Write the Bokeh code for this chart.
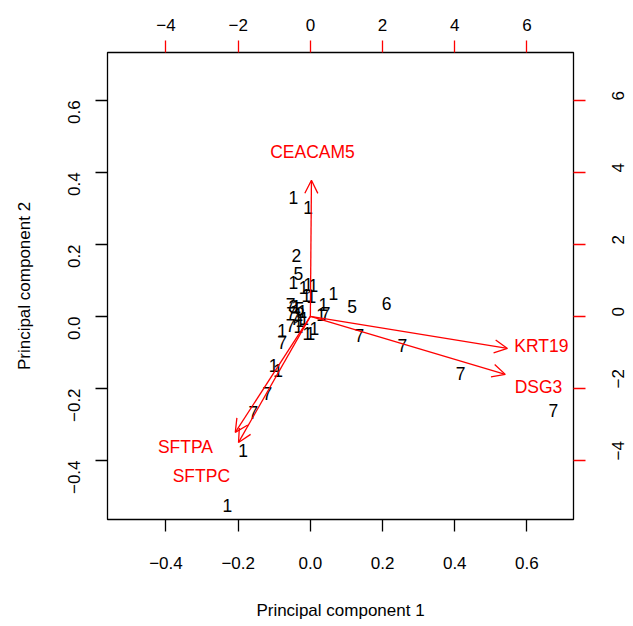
import math
from bokeh.plotting import figure
from bokeh.models import Range1d, LinearAxis, FixedTicker, Arrow, OpenHead, ColumnDataSource, LabelSet
from bokeh.core.properties import value
from bokeh.embed import file_html
from bokeh.resources import INLINE

# ---- data ----
pc1 = [-0.047, -0.006, -0.039, -0.033, -0.047, -0.019, -0.006, 0.008, -0.011, 0.003,
       0.064, 0.036, 0.116, 0.211, 0.030, 0.042, 0.136, 0.255, 0.416, 0.673,
       -0.055, -0.047, -0.039, -0.030, -0.053, -0.033, -0.022, -0.028, -0.042, -0.017,
       -0.078, -0.055, -0.078, -0.033, -0.008, 0.000, 0.011, -0.102, -0.089, -0.119,
       -0.158, -0.186, -0.230]
pc2 = [0.331, 0.303, 0.169, 0.119, 0.094, 0.081, 0.089, 0.086, 0.058, 0.056,
       0.064, 0.033, 0.028, 0.036, 0.006, 0.008, -0.053, -0.081, -0.158, -0.261,
       0.033, 0.028, 0.028, 0.022, 0.008, 0.006, 0.014, -0.011, -0.006, -0.006,
       -0.039, -0.025, -0.072, -0.028, -0.047, -0.047, -0.033, -0.136, -0.150, -0.214,
       -0.267, -0.372, -0.525]
groups = ["1", "1", "2", "5", "1", "1", "1", "1", "1", "1",
          "1", "1", "5", "6", "1", "7", "7", "7", "7", "7",
          "7", "3", "1", "5", "7", "1", "1", "1", "7", "1",
          "1", "7", "7", "1", "1", "1", "1", "1", "1", "7",
          "7", "1", "1"]

genes = ["CEACAM5", "KRT19", "DSG3", "SFTPA", "SFTPC"]
load1 = [0.03, 5.46, 5.40, -2.08, -1.99]
load2 = [3.78, -0.89, -1.61, -3.22, -3.50]
lab1 = [0.06, 6.40, 6.32, -3.46, -3.02]
lab2 = [4.56, -0.81, -1.97, -3.64, -4.44]

pc_ticks = [-0.4, -0.2, 0.0, 0.2, 0.4, 0.6]
pc_tick_labels = ["\u22120.4", "\u22120.2", "0.0", "0.2", "0.4", "0.6"]
ld_ticks = [-4, -2, 0, 2, 4, 6]
ld_tick_labels = ["\u22124", "\u22122", "0", "2", "4", "6"]

FONT = "Liberation Sans"
FS = "17px"
FS_PTS = "17.5px"

p = figure(width=617, height=610, output_backend="svg", toolbar_location=None,
           x_range=Range1d(-0.562, 0.729), y_range=Range1d(-0.564, 0.733),
           min_border_left=107, min_border_right=44, min_border_top=52, min_border_bottom=91,
           x_axis_label="Principal component 1", y_axis_label="Principal component 2")
p.frame_width = 466
p.frame_height = 467
p.grid.visible = False
p.outline_line_color = "black"
p.outline_line_width = 1.3
p.background_fill_color = "white"
p.border_fill_color = "white"

p.extra_x_ranges = {"ld1": Range1d(-5.62, 7.29)}
p.extra_y_ranges = {"ld2": Range1d(-5.64, 7.33)}

def style(ax, ticks, labels, tick_color, vertical=False):
    ax.ticker = FixedTicker(ticks=ticks)
    ax.major_label_overrides = {t: l for t, l in zip(ticks, labels)}
    ax.axis_line_color = None
    ax.major_tick_line_color = tick_color
    ax.major_tick_line_width = 1.3
    ax.major_tick_out = 12
    ax.major_tick_in = 0
    ax.minor_tick_line_color = None
    ax.major_label_text_font = FONT
    ax.major_label_text_font_size = FS
    ax.major_label_text_color = "black"
    ax.axis_label_text_font = FONT
    ax.axis_label_text_font_size = FS
    ax.axis_label_text_font_style = "normal"
    ax.axis_label_text_color = "black"
    if vertical:
        ax.major_label_orientation = math.pi / 2

style(p.xaxis[0], pc_ticks, pc_tick_labels, "black")
p.xaxis[0].major_label_standoff = 25
p.xaxis[0].axis_label_standoff = 29
style(p.yaxis[0], pc_ticks, pc_tick_labels, "black", vertical=True)
p.yaxis[0].major_label_standoff = 21
p.yaxis[0].axis_label_standoff = 26

top = LinearAxis(x_range_name="ld1")
style(top, ld_ticks, ld_tick_labels, "red")
top.major_label_standoff = 10
p.add_layout(top, "above")
right = LinearAxis(y_range_name="ld2")
style(right, ld_ticks, ld_tick_labels, "red", vertical=True)
right.major_label_standoff = 33
p.add_layout(right, "right")

# sample points as text
src = ColumnDataSource(dict(x=pc1, y=pc2, t=groups))
p.text(x="x", y="y", text="t", source=src, text_align="center", text_baseline="middle",
       text_font=value(FONT), text_font_size=FS_PTS, text_color="black")

# loading arrows
for i in range(len(genes)):
    p.add_layout(Arrow(x_start=0, y_start=0, x_end=load1[i], y_end=load2[i],
                       x_range_name="ld1", y_range_name="ld2",
                       line_color="red", line_width=1.3,
                       end=OpenHead(size=13, line_color="red", line_width=1.3)))

lsrc = ColumnDataSource(dict(x=lab1, y=lab2, t=genes))
p.add_layout(LabelSet(x="x", y="y", text="t", source=lsrc, x_range_name="ld1", y_range_name="ld2",
                      text_align="center", text_baseline="middle", text_font=value(FONT),
                      text_font_size=FS_PTS, text_color="red"))

open("out.html", "w").write(file_html(p, INLINE))
